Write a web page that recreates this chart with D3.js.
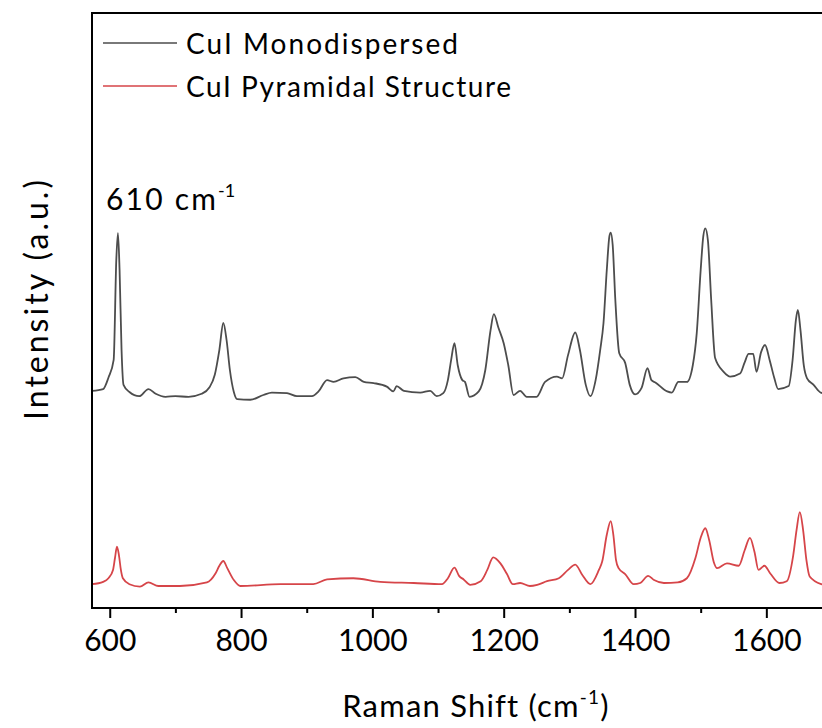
<!DOCTYPE html>
<html>
<head>
<meta charset="utf-8">
<script src="https://cdn.jsdelivr.net/npm/d3@7"></script>
<style>
  body { margin: 0; background: #fff; }
  svg { display: block; font-family: Lato, "Noto Sans", sans-serif; }
</style>
</head>
<body>
<main></main>
<script>
// Raman shift (cm-1) and intensity (a.u.)
const monoShift = [573, 590, 598, 606, 610, 612.5, 615, 618, 621, 630, 645, 659, 670, 685, 700, 720, 740, 752, 760, 767, 773, 778, 783, 789, 794, 814, 834, 847, 870, 885, 908, 918, 931, 941, 956, 974, 987, 1002, 1022, 1032, 1037, 1048, 1073, 1088, 1098, 1108, 1115, 1120, 1125, 1130, 1137, 1141, 1148, 1162, 1172, 1180, 1185, 1192, 1200, 1207, 1215, 1225, 1235, 1250, 1263, 1281, 1289, 1298, 1309, 1316, 1325, 1332, 1340, 1347, 1352, 1357, 1361, 1363, 1366, 1370, 1376, 1385, 1392, 1400, 1410, 1419, 1425, 1431, 1449, 1456, 1466, 1479, 1488, 1494, 1500, 1504, 1507, 1511, 1516, 1522, 1535, 1545, 1560, 1567, 1573, 1580, 1585, 1592, 1598, 1605, 1612, 1618, 1634, 1640, 1645, 1648, 1652, 1657, 1662, 1672, 1683, 1700];
const monoValues = [3.65, 3.68, 3.87, 4.17, 5.85, 6.30, 5.68, 4.34, 3.75, 3.63, 3.56, 3.68, 3.60, 3.55, 3.56, 3.55, 3.60, 3.71, 3.92, 4.34, 4.79, 4.50, 4.00, 3.63, 3.51, 3.50, 3.58, 3.62, 3.61, 3.56, 3.56, 3.64, 3.83, 3.80, 3.86, 3.88, 3.80, 3.78, 3.72, 3.64, 3.73, 3.65, 3.62, 3.65, 3.56, 3.61, 3.83, 4.17, 4.45, 4.08, 3.83, 3.80, 3.55, 3.64, 4.00, 4.67, 4.94, 4.71, 4.45, 4.08, 3.58, 3.65, 3.55, 3.55, 3.80, 3.89, 3.86, 4.25, 4.63, 4.34, 3.75, 3.56, 3.83, 4.34, 4.79, 5.68, 6.25, 6.31, 6.10, 5.18, 4.28, 4.12, 3.75, 3.59, 3.70, 4.03, 3.83, 3.79, 3.64, 3.62, 3.80, 3.80, 4.08, 4.62, 5.68, 6.25, 6.38, 6.18, 5.18, 4.20, 3.97, 3.89, 3.94, 4.13, 4.27, 4.27, 3.97, 4.30, 4.42, 4.17, 3.87, 3.68, 3.73, 4.17, 4.84, 5.01, 4.67, 4.08, 3.86, 3.75, 3.62, 3.58];

const pyrShift = [573, 590, 598, 605, 608, 611, 614, 617, 620, 630, 646, 659, 674, 707, 748, 761, 767, 773, 779, 789, 799, 860, 910, 931, 971, 1012, 1063, 1106, 1115, 1125, 1132, 1139, 1149, 1165, 1175, 1184, 1195, 1205, 1214, 1225, 1240, 1251, 1266, 1284, 1298, 1309, 1320, 1332, 1345, 1350, 1357, 1363, 1367, 1371, 1375, 1385, 1398, 1408, 1420, 1429, 1444, 1465, 1479, 1492, 1500, 1507, 1513, 1520, 1525, 1540, 1558, 1567, 1575, 1582, 1588, 1597, 1606, 1620, 1631, 1641, 1646, 1651, 1656, 1661, 1666, 1684, 1700];
const pyrValues = [0.40, 0.44, 0.50, 0.64, 0.84, 1.03, 0.89, 0.64, 0.50, 0.40, 0.36, 0.43, 0.37, 0.37, 0.43, 0.58, 0.71, 0.79, 0.67, 0.47, 0.37, 0.40, 0.40, 0.48, 0.50, 0.44, 0.42, 0.40, 0.50, 0.68, 0.54, 0.48, 0.39, 0.45, 0.64, 0.85, 0.75, 0.57, 0.40, 0.42, 0.37, 0.39, 0.45, 0.50, 0.64, 0.73, 0.55, 0.40, 0.64, 0.78, 1.23, 1.46, 1.23, 0.81, 0.67, 0.57, 0.40, 0.42, 0.54, 0.47, 0.42, 0.43, 0.50, 0.84, 1.18, 1.34, 1.14, 0.77, 0.67, 0.75, 0.71, 0.97, 1.18, 0.94, 0.64, 0.71, 0.58, 0.42, 0.45, 0.89, 1.31, 1.61, 1.31, 0.81, 0.53, 0.40, 0.37];

const seriesNames = ["CuI Monodispersed", "CuI Pyramidal Structure"];
const seriesColors = ["#4d4d4d", "#d64549"];
const majorTicks = [600, 800, 1000, 1200, 1400, 1600];
const minorTicks = [700, 900, 1100, 1300, 1500, 1700];

const W = 822, H = 728;
const plot = { left: 92, top: 13, right: 832, bottom: 608 };

const svg = d3.select("main").append("svg")
  .attr("width", W)
  .attr("height", H);

const x = d3.scaleLinear().domain([573, 1700]).range([plot.left, plot.right]);
const y = d3.scaleLinear().domain([0, 10]).range([plot.bottom, plot.top]);

svg.append("clipPath").attr("id", "clip")
  .append("rect")
  .attr("x", plot.left).attr("y", plot.top)
  .attr("width", plot.right - plot.left).attr("height", plot.bottom - plot.top);

const line = d3.line()
  .x(d => x(d[0]))
  .y(d => y(d[1]))
  .curve(d3.curveMonotoneX);

const series = [
  d3.zip(monoShift, monoValues),
  d3.zip(pyrShift, pyrValues)
];

svg.append("g").attr("clip-path", "url(#clip)")
  .selectAll("path")
  .data(series)
  .enter()
  .append("path")
  .attr("d", line)
  .attr("fill", "none")
  .attr("stroke", (d, i) => seriesColors[i])
  .attr("stroke-width", 1.8)
  .attr("stroke-linejoin", "round");

// frame: top and left (right side is cut off in the picture)
svg.append("path")
  .attr("d", `M${plot.left},${plot.bottom}V${plot.top}H${W + 5}`)
  .attr("fill", "none")
  .attr("stroke", "#000")
  .attr("stroke-width", 2);

// x axis
const xAxis = d3.axisBottom(x).tickValues(majorTicks).tickSize(10).tickPadding(12).tickFormat(d3.format("d"));
const gx = svg.append("g")
  .attr("transform", `translate(0,${plot.bottom})`)
  .call(xAxis);
gx.select(".domain").remove();
gx.selectAll(".tick line").attr("stroke", "#000").attr("stroke-width", 2);
gx.selectAll(".tick text")
  .attr("fill", "#000")
  .style("font-size", "30px")
  .style("font-family", "Lato, 'Noto Sans', sans-serif");

const gMinor = svg.append("g")
  .attr("transform", `translate(0,${plot.bottom})`)
  .call(d3.axisBottom(x).tickValues(minorTicks).tickSize(5).tickFormat(""));
gMinor.select(".domain").remove();
gMinor.selectAll(".tick line").attr("stroke", "#000").attr("stroke-width", 2);

svg.append("line")
  .attr("x1", plot.left - 1).attr("x2", W + 5)
  .attr("y1", plot.bottom).attr("y2", plot.bottom)
  .attr("stroke", "#000").attr("stroke-width", 2);

// axis titles
const xTitle = svg.append("text")
  .attr("x", 476)
  .attr("y", 717)
  .attr("text-anchor", "middle")
  .style("font-size", "31px")
  .style("letter-spacing", "1.2px")
  .attr("fill", "#000");
xTitle.append("tspan").text("Raman Shift (cm");
xTitle.append("tspan").attr("dy", -13).style("font-size", "19px").text("-1");
xTitle.append("tspan").attr("dy", 13).text(")");

svg.append("text")
  .attr("transform", "translate(48,300) rotate(-90)")
  .attr("text-anchor", "middle")
  .style("font-size", "32px")
  .attr("textLength", 240)
  .attr("lengthAdjust", "spacing")
  .attr("fill", "#000")
  .text("Intensity (a.u.)");

// peak note
const note = svg.append("text")
  .attr("x", 106)
  .attr("y", 210)
  .style("font-size", "30px")
  .style("letter-spacing", "2.2px")
  .attr("fill", "#000");
note.append("tspan").text("610 cm");
note.append("tspan").attr("dy", -13).style("font-size", "18px").style("letter-spacing", "0px").text("-1");

// legend
const legendWidths = [272, 325];
const legend = svg.append("g")
  .selectAll("g")
  .data(seriesNames)
  .enter()
  .append("g")
  .attr("transform", (d, i) => `translate(0,${43 + i * 43})`);

legend.append("line")
  .attr("x1", 103).attr("x2", 177)
  .attr("stroke", (d, i) => seriesColors[i])
  .attr("stroke-width", 1.5);

legend.append("text")
  .attr("x", 186)
  .attr("y", 11)
  .style("font-size", "28px")
  .attr("textLength", (d, i) => legendWidths[i])
  .attr("lengthAdjust", "spacing")
  .attr("fill", "#000")
  .text(d => d);
</script>
</body>
</html>
